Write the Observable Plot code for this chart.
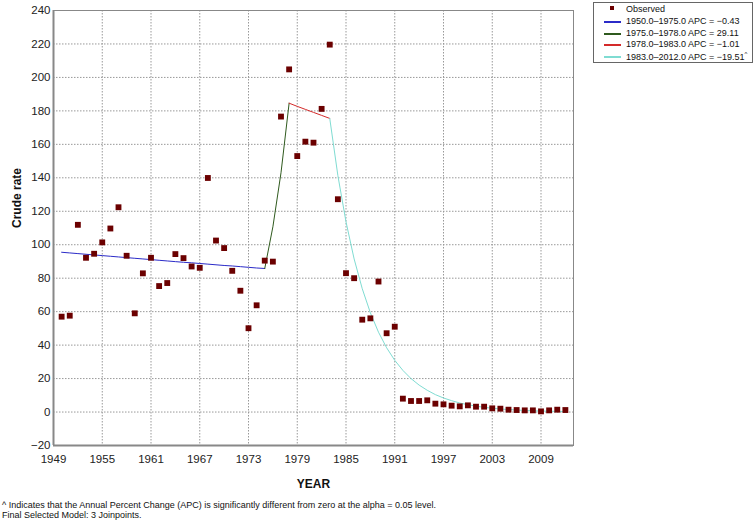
<!DOCTYPE html>
<html>
<head>
<meta charset="utf-8">
<script src="https://cdn.jsdelivr.net/npm/d3@7"></script>
<script src="https://cdn.jsdelivr.net/npm/@observablehq/plot@0.6"></script>
<style>
  body { margin: 0; background: #fff; font-family: "Liberation Sans", Arial, sans-serif; }
  #wrap { position: relative; width: 755px; height: 522px; }
  #legend { position: absolute; left: 593px; top: 2px; width: 158px; height: 59px; border: 1px solid #666; background: #fff; font-size: 9px; color: #111; }
  .li { position: absolute; left: 0; height: 12px; }
  .li span.t { position: absolute; left: 32px; top: 0px; white-space: nowrap; }
  .li span.sw { position: absolute; left: 10px; top: 5px; width: 17px; height: 2px; }
  .li span.mk { position: absolute; left: 16px; top: 2px; width: 4px; height: 4px; background: #6b0000; }
  #foot { position: absolute; left: 2px; top: 500px; font-size: 9px; line-height: 10px; color: #111; white-space: nowrap; }
</style>
</head>
<body>
<div id="wrap">
  <div id="chart"></div>
  <div id="legend"></div>
  <div id="foot"></div>
</div>
<script>
// Years for observed data (1950..2012)
const obsStartYear = 1950;
const observed = [
  57.0, 57.6, 111.9, 92.2, 94.6, 101.4, 109.7, 122.4, 93.4, 59.0,
  82.9, 92.2, 75.3, 77.1, 94.4, 92.0, 87.0, 86.2, 139.9, 102.5,
  98.0, 84.4, 72.5, 50.1, 63.8, 90.5, 89.9, 176.6, 204.8, 153.0,
  161.6, 161.0, 181.2, 219.6, 127.2, 83.0, 80.0, 55.2, 56.0, 78.0,
  47.1, 51.0, 8.0, 6.6, 6.6, 7.0, 5.0, 4.6, 3.8, 3.4,
  4.0, 3.2, 3.2, 2.2, 2.0, 1.4, 1.2, 1.0, 1.0, 0.4,
  1.0, 1.4, 1.2
];

// Fitted joinpoint segments (yearly modeled values)
const seg1Years = [1950, 1951, 1952, 1953, 1954, 1955, 1956, 1957, 1958, 1959, 1960, 1961, 1962,
  1963, 1964, 1965, 1966, 1967, 1968, 1969, 1970, 1971, 1972, 1973, 1974, 1975];
const seg1Fit = [95.5, 95.1, 94.7, 94.3, 93.9, 93.5, 93.1, 92.7, 92.3, 91.9, 91.5, 91.1, 90.7,
  90.3, 89.9, 89.5, 89.2, 88.8, 88.4, 88.0, 87.6, 87.3, 86.9, 86.5, 86.1, 85.8];
const seg2Years = [1975, 1976, 1977, 1978];
const seg2Fit = [85.8, 110.7, 143.0, 184.6];
const seg3Years = [1978, 1979, 1980, 1981, 1982, 1983];
const seg3Fit = [184.6, 182.7, 180.9, 179.1, 177.3, 175.5];
const seg4Years = [1983, 1984, 1985, 1986, 1987, 1988, 1989, 1990, 1991, 1992, 1993, 1994, 1995,
  1996, 1997, 1998, 1999, 2000, 2001, 2002, 2003, 2004, 2005, 2006, 2007, 2008, 2009, 2010, 2011, 2012];
const seg4Fit = [175.5, 141.3, 113.7, 91.5, 73.7, 59.3, 47.7, 38.4, 30.9, 24.9, 20.0, 16.1, 13.0,
  10.4, 8.4, 6.8, 5.4, 4.4, 3.5, 2.8, 2.3, 1.8, 1.5, 1.2, 0.96, 0.77, 0.62, 0.50, 0.40, 0.32];

const segLabels = [
  "1950.0\u20131975.0 APC = \u22120.43",
  "1975.0\u20131978.0 APC = 29.11",
  "1978.0\u20131983.0 APC = \u22121.01",
  "1983.0\u20132012.0 APC = \u221219.51"
];
const segColors = ["#2b2bc8", "#2f5a1e", "#d42a2a", "#7fdcd2"];

const xTicks = [1949, 1955, 1961, 1967, 1973, 1979, 1985, 1991, 1997, 2003, 2009];
const yTicks = [-20, 0, 20, 40, 60, 80, 100, 120, 140, 160, 180, 200, 220, 240];

const obsData = observed.map((v, i) => ({year: obsStartYear + i, value: v}));
const segs = [[seg1Years, seg1Fit], [seg2Years, seg2Fit], [seg3Years, seg3Fit], [seg4Years, seg4Fit]]
  .map(([ys, vs]) => ys.map((y, i) => ({year: y, value: vs[i]})));

const chart = Plot.plot({
  width: 755,
  height: 522,
  marginTop: 10,
  marginBottom: 77,
  marginLeft: 53,
  marginRight: 182,
  style: {fontFamily: "'Liberation Sans', Arial, sans-serif", fontSize: "11px", color: "#222", background: "#fff"},
  x: {domain: [1949, 2013], label: null},
  y: {domain: [-20, 240], label: null},
  marks: [
    Plot.ruleX(xTicks.slice(1), {stroke: "#999", strokeDasharray: "1.5,1.5", strokeWidth: 1}),
    Plot.ruleY(yTicks.slice(1, -1), {stroke: "#999", strokeDasharray: "1.5,1.5", strokeWidth: 1}),
    Plot.frame({stroke: "#888", strokeWidth: 1}),
    Plot.ruleX([1949], {stroke: "#888", strokeWidth: 2}),
    Plot.ruleY([-20], {stroke: "#888", strokeWidth: 2}),
    ...segs.map((d, i) => Plot.line(d, {x: "year", y: "value", stroke: segColors[i], strokeWidth: 1})),
    Plot.dot(obsData, {x: "year", y: "value", symbol: "square", r: 3.3, fill: "#6b0000", stroke: "none"}),
    Plot.axisX({ticks: xTicks, tickFormat: d => String(d), tickSize: 0, tickPadding: 9, fontSize: 11.5, label: null}),
    Plot.axisY({ticks: yTicks, tickSize: 0, tickPadding: 3, fontSize: 11.5, label: null}),
    Plot.text(["YEAR"], {frameAnchor: "bottom", dy: 42, fontWeight: "bold", fontSize: 12, fill: "#111"}),
    Plot.text(["Crude rate"], {frameAnchor: "left", dx: -36, rotate: -90, fontWeight: "bold", fontSize: 12, fill: "#111"})
  ]
});
document.getElementById("chart").appendChild(chart);

// Legend
const legend = document.getElementById("legend");
const rows = [{label: "Observed", marker: true}].concat(segLabels.map((l, i) => ({label: l, color: segColors[i], sup: i === 3})));
rows.forEach((r, i) => {
  const div = document.createElement("div");
  div.className = "li";
  div.style.top = (1 + i * 11.8) + "px";
  if (r.marker) {
    const m = document.createElement("span"); m.className = "mk"; div.appendChild(m);
  } else {
    const s = document.createElement("span"); s.className = "sw"; s.style.background = r.color; div.appendChild(s);
  }
  const t = document.createElement("span"); t.className = "t"; t.textContent = r.label;
  if (r.sup) { const sp = document.createElement("sup"); sp.textContent = "^"; sp.style.fontSize = "6px"; t.appendChild(sp); }
  div.appendChild(t);
  legend.appendChild(div);
});

document.getElementById("foot").innerHTML =
  "^ Indicates that the Annual Percent Change (APC) is significantly different from zero at the alpha = 0.05 level.<br>Final Selected Model: 3 Joinpoints.";
</script>
</body>
</html>
